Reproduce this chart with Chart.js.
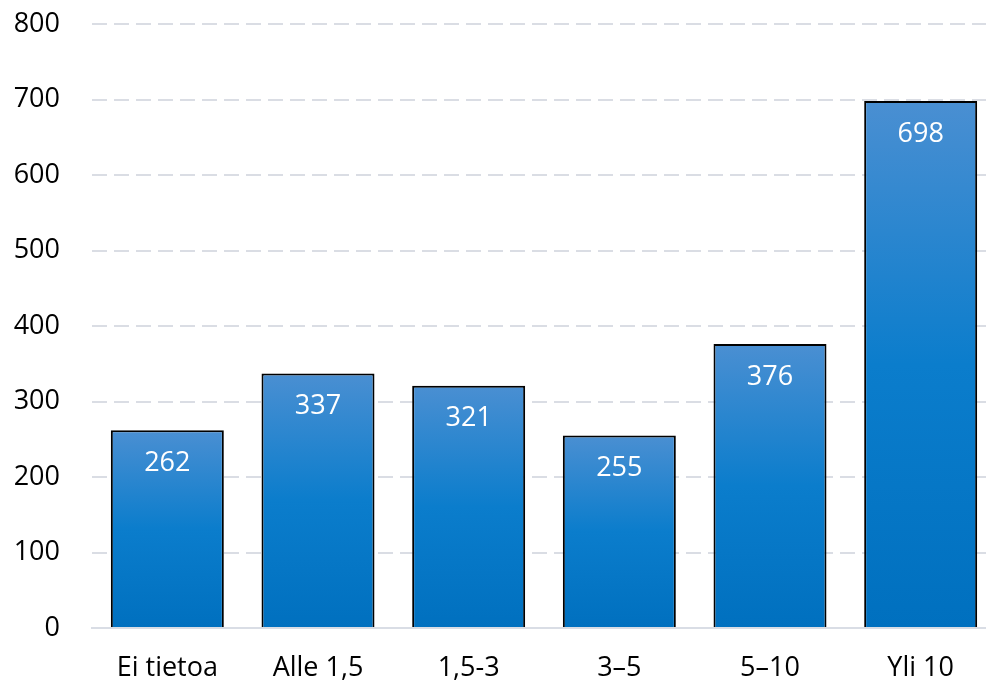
<!DOCTYPE html>
<html>
<head>
<meta charset="utf-8">
<script src="https://cdn.jsdelivr.net/npm/chart.js@4.4.1/dist/chart.umd.min.js"></script>
<style>
  html,body{margin:0;padding:0;background:#fff;overflow:hidden;}
  #wrap{width:996px;height:684px;}
</style>
</head>
<body>
<div id="wrap"><canvas id="c"></canvas></div>
<script>
const categories = ['Ei tietoa','Alle 1,5','1,5-3','3–5','5–10','Yli 10'];
const values = [262, 337, 321, 255, 376, 698];
const yTicks = [0,100,200,300,400,500,600,700,800];

const FONT = "'Open Sans', 'Noto Sans', sans-serif";

// gradient per bar: lighter at top, deeper blue at bottom
function barFill(ctx){
  const chart = ctx.chart;
  const ys = chart.scales && chart.scales.y;
  if(!chart.chartArea || !ys) return '#1a7fcc';
  const top = ys.getPixelForValue(values[ctx.dataIndex]);
  const base = ys.getPixelForValue(0);
  if(!isFinite(top) || !isFinite(base)) return '#1a7fcc';
  const g = chart.ctx.createLinearGradient(0, top, 0, base);
  g.addColorStop(0, '#4a8fd2');
  g.addColorStop(0.5, '#0b7dcc');
  g.addColorStop(1, '#0070bf');
  return g;
}

// white value labels inside bars
const valueLabels = {
  id:'valueLabels',
  afterDatasetsDraw(chart){
    const c = chart.ctx;
    const meta = chart.getDatasetMeta(0);
    c.save();
    c.fillStyle = '#fff';
    c.font = '27px ' + FONT;
    c.textAlign = 'center';
    c.textBaseline = 'middle';
    meta.data.forEach((bar,i)=>{
      c.fillText(values[i], bar.x, bar.y + 33);
    });
    c.restore();
  }
};

new Chart(document.getElementById('c'),{
  type:'bar',
  data:{
    labels:categories,
    datasets:[{
      data:values,
      backgroundColor:barFill,
      borderColor:'#000',
      borderWidth:2,
      borderSkipped:'bottom',
      barPercentage:0.75,
      categoryPercentage:1
    }]
  },
  options:{
    responsive:true,
    maintainAspectRatio:false,
    animation:false,
    layout:{padding:{top:24,left:0,right:0,bottom:0}},
    plugins:{legend:{display:false},tooltip:{enabled:false}},
    scales:{
      x:{
        grid:{display:false},
        border:{display:true,color:'#d9dde5',width:2},
        ticks:{color:'#000',font:{family:FONT,size:27},padding:16},
        afterFit(axis){ axis.height = 56; }
      },
      y:{
        min:0,max:800,
        afterBuildTicks(axis){ axis.ticks = yTicks.map(v=>({value:v})); },
        grid:{color:'#dadde4',lineWidth:2,drawTicks:true,tickLength:28,tickColor:'rgba(0,0,0,0)'},
        border:{display:false,dash:[15,7]},
        ticks:{color:'#000',font:{family:FONT,size:27},padding:4},
        afterFit(axis){ axis.width = 92; }
      }
    }
  },
  plugins:[valueLabels]
});
</script>
</body>
</html>
